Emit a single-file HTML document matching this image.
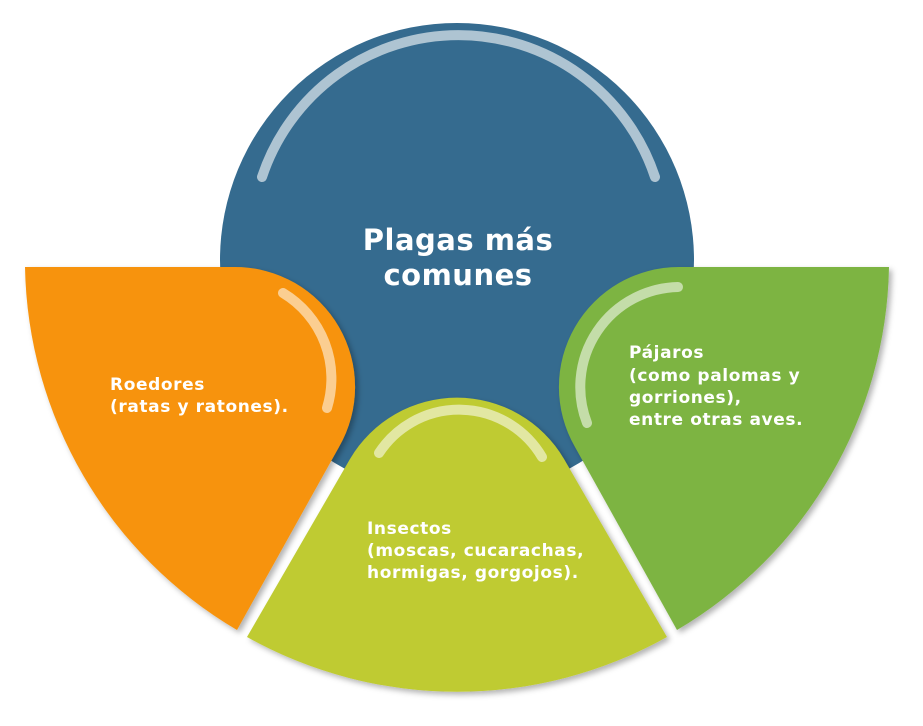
<!DOCTYPE html>
<html><head><meta charset="utf-8"><style>
html,body{margin:0;padding:0;background:#fff;}
svg{display:block;}
text{font-family:"DejaVu Sans","Liberation Sans",sans-serif;font-weight:bold;fill:#fff;}
.s{font-size:17px;letter-spacing:0.6px;}
</style></head><body>
<svg width="923" height="726" viewBox="0 0 923 726" xmlns="http://www.w3.org/2000/svg">
<defs>
<filter id="sh" x="-20%" y="-20%" width="140%" height="140%">
<feDropShadow dx="3" dy="3" stdDeviation="3" flood-color="#000" flood-opacity="0.3"/>
</filter>
</defs>
<circle cx="457" cy="260" r="237" fill="#356b8f"/>
<path d="M262,177 A207,207 0 0 1 655,177" fill="none" stroke="#fff" stroke-opacity="0.6" stroke-width="10" stroke-linecap="round"/>
<text x="458" y="250" font-size="29" letter-spacing="0.5" text-anchor="middle">Plagas más</text>
<text x="458" y="285" font-size="29" letter-spacing="0.5" text-anchor="middle">comunes</text>

<path filter="url(#sh)" d="M25,267 L235,267 A120,120 0 0 1 339,447 L237,630 A430,430 0 0 1 25,267 Z" fill="#f7930a"/>
<path d="M283,293 A100,100 0 0 1 327,408" fill="none" stroke="#fff" stroke-opacity="0.55" stroke-width="10" stroke-linecap="round"/>
<text class="s" x="110" y="390">Roedores</text>
<text class="s" x="110" y="412">(ratas y ratones).</text>

<path filter="url(#sh)" d="M889,267 L679,267 A120,120 0 0 0 575,447 L677,630 A430,430 0 0 0 889,267 Z" fill="#7db443"/>
<path d="M678,287 A100,100 0 0 0 587,423" fill="none" stroke="#fff" stroke-opacity="0.55" stroke-width="10" stroke-linecap="round"/>
<text class="s" x="629" y="358">Pájaros</text>
<text class="s" x="629" y="381">(como palomas y</text>
<text class="s" x="629" y="403">gorriones),</text>
<text class="s" x="629" y="425">entre otras aves.</text>

<path filter="url(#sh)" d="M247,637 L350,459 A124,124 0 0 1 564,459 L667,637 A430,430 0 0 1 247,637 Z" fill="#bfcb33"/>
<path d="M379,453 A96,96 0 0 1 542,457" fill="none" stroke="#fff" stroke-opacity="0.55" stroke-width="10" stroke-linecap="round"/>
<text class="s" x="367" y="534">Insectos</text>
<text class="s" x="367" y="556">(moscas, cucarachas,</text>
<text class="s" x="367" y="578">hormigas, gorgojos).</text>
</svg>
</body></html>
